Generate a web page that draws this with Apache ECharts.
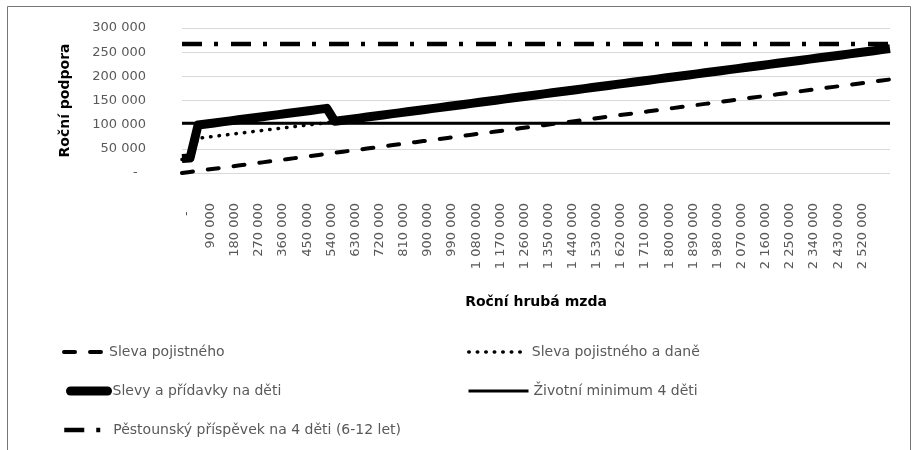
<!DOCTYPE html>
<html>
<head>
<meta charset="utf-8">
<script src="https://cdn.jsdelivr.net/npm/echarts@6/dist/echarts.min.js"></script>
<style>
html,body{margin:0;padding:0;background:#fff;}
#chart{width:919px;height:450px;}
</style>
</head>
<body>
<div id="chart"></div>
<script>
// Roční hrubá mzda (categories)
const wages = [0, 30000, 60000, 90000, 120000, 150000, 180000, 210000, 240000, 270000,
  300000, 330000, 360000, 390000, 420000, 450000, 480000, 510000, 540000, 570000,
  600000, 630000, 660000, 690000, 720000, 750000, 780000, 810000, 840000, 870000,
  900000, 930000, 960000, 990000, 1020000, 1050000, 1080000, 1110000, 1140000, 1170000,
  1200000, 1230000, 1260000, 1290000, 1320000, 1350000, 1380000, 1410000, 1440000, 1470000,
  1500000, 1530000, 1560000, 1590000, 1620000, 1650000, 1680000, 1710000, 1740000, 1770000,
  1800000, 1830000, 1860000, 1890000, 1920000, 1950000, 1980000, 2010000, 2040000, 2070000,
  2100000, 2130000, 2160000, 2190000, 2220000, 2250000, 2280000, 2310000, 2340000, 2370000,
  2400000, 2430000, 2460000, 2490000, 2520000, 2550000, 2580000, 2610000, 2640000];

// last labelled tick in the reference is 2 520 000
const lastLabelled = 2520000;

const slevaPojistneho = [0, 2200, 4400, 6600, 8800, 11000, 13200, 15400, 17600, 19800,
  22000, 24200, 26400, 28600, 30800, 33000, 35200, 37400, 39600, 41800,
  44000, 46200, 48400, 50600, 52800, 55000, 57200, 59400, 61600, 63800,
  66000, 68200, 70400, 72600, 74800, 77000, 79200, 81400, 83600, 85800,
  88000, 90200, 92400, 94600, 96800, 99000, 101200, 103400, 105600, 107800,
  110000, 112200, 114400, 116600, 118800, 121000, 123200, 125400, 127600, 129800,
  132000, 134200, 136400, 138600, 140800, 143000, 145200, 147400, 149600, 151800,
  154000, 156200, 158400, 160600, 162800, 165000, 167200, 169400, 171600, 173800,
  176000, 178200, 180400, 182600, 184800, 187000, 189200, 191400, 193500];

const slevaPojistnehoADane = [28000, 30000, 72000, 74000, 76000, 78000, 80000, 82000, 84000, 86000,
  88000, 90000, 92000, 94000, 96000, 98000, 100000, 102000, 104000, 107000,
  109200, 111400, 113500, 115700, 117900, 120100, 122300, 124400, 126600, 128800,
  131000, 133200, 135300, 137500, 139700, 141900, 144100, 146200, 148400, 150600,
  152800, 155000, 157100, 159300, 161500, 163700, 165900, 168000, 170200, 172400,
  174600, 176800, 178900, 181100, 183300, 185500, 187700, 189800, 192000, 194200,
  196400, 198600, 200700, 202900, 205100, 207300, 209500, 211600, 213800, 216000,
  218200, 220400, 222500, 224700, 226900, 229100, 231300, 233400, 235600, 237800,
  240000, 242200, 244300, 246500, 248700, 250900, 253100, 255200, 257400];

const slevyAPridavky = [30000, 31000, 99300, 101500, 103600, 105800, 107900, 110100, 112200, 114400,
  116500, 118700, 120800, 123000, 125100, 127300, 129400, 131600, 133700, 107000,
  109200, 111400, 113500, 115700, 117900, 120100, 122300, 124400, 126600, 128800,
  131000, 133200, 135300, 137500, 139700, 141900, 144100, 146200, 148400, 150600,
  152800, 155000, 157100, 159300, 161500, 163700, 165900, 168000, 170200, 172400,
  174600, 176800, 178900, 181100, 183300, 185500, 187700, 189800, 192000, 194200,
  196400, 198600, 200700, 202900, 205100, 207300, 209500, 211600, 213800, 216000,
  218200, 220400, 222500, 224700, 226900, 229100, 231300, 233400, 235600, 237800,
  240000, 242200, 244300, 246500, 248700, 250900, 253100, 255200, 257400];

const zivotniMinimum = [102800, 102800, 102800, 102800, 102800, 102800, 102800, 102800, 102800, 102800,
  102800, 102800, 102800, 102800, 102800, 102800, 102800, 102800, 102800, 102800,
  102800, 102800, 102800, 102800, 102800, 102800, 102800, 102800, 102800, 102800,
  102800, 102800, 102800, 102800, 102800, 102800, 102800, 102800, 102800, 102800,
  102800, 102800, 102800, 102800, 102800, 102800, 102800, 102800, 102800, 102800,
  102800, 102800, 102800, 102800, 102800, 102800, 102800, 102800, 102800, 102800,
  102800, 102800, 102800, 102800, 102800, 102800, 102800, 102800, 102800, 102800,
  102800, 102800, 102800, 102800, 102800, 102800, 102800, 102800, 102800, 102800,
  102800, 102800, 102800, 102800, 102800, 102800, 102800, 102800, 102800];

const pestounsky = [267100, 267100, 267100, 267100, 267100, 267100, 267100, 267100, 267100, 267100,
  267100, 267100, 267100, 267100, 267100, 267100, 267100, 267100, 267100, 267100,
  267100, 267100, 267100, 267100, 267100, 267100, 267100, 267100, 267100, 267100,
  267100, 267100, 267100, 267100, 267100, 267100, 267100, 267100, 267100, 267100,
  267100, 267100, 267100, 267100, 267100, 267100, 267100, 267100, 267100, 267100,
  267100, 267100, 267100, 267100, 267100, 267100, 267100, 267100, 267100, 267100,
  267100, 267100, 267100, 267100, 267100, 267100, 267100, 267100, 267100, 267100,
  267100, 267100, 267100, 267100, 267100, 267100, 267100, 267100, 267100, 267100,
  267100, 267100, 267100, 267100, 267100, 267100, 267100, 267100, 267100];

const seriesNames = ['Sleva pojistného', 'Sleva pojistného a daně', 'Slevy a přídavky na děti',
  'Životní minimum 4 děti', 'Pěstounský příspěvek na 4 děti (6-12 let)'];

const FONT = 'DejaVu Sans';
const GREY = '#595959';

function fmt(v) {
  const n = Number(v);
  if (n === 0) return '-';
  return String(n).replace(/\B(?=(\d{3})+(?!\d))/g, ' ');
}

const chart = echarts.init(document.getElementById('chart'));

function legendAt(name, left, top, width, cap) {
  const ls = { width: 'inherit' };
  if (cap) ls.cap = cap;
  return {
    data: [name], left: left, top: top, itemWidth: width, itemHeight: 14,
    orient: 'horizontal', padding: 0, selectedMode: false,
    itemStyle: { opacity: 0 },
    lineStyle: ls,
    textStyle: { color: GREY, fontSize: 14, fontFamily: FONT }
  };
}

chart.setOption({
  animation: false,
  backgroundColor: '#fff',
  grid: { left: 182, right: 29, top: 28, bottom: 277, containLabel: false },
  graphic: [{
    type: 'rect', silent: true,
    shape: { x: 7.5, y: 6.5, width: 903, height: 500 },
    style: { fill: 'none', stroke: '#767676', lineWidth: 1 }
  }],
  legend: [
    legendAt(seriesNames[0], 62, 345, 40),
    legendAt(seriesNames[1], 467, 345, 58),
    legendAt(seriesNames[2], 66, 384, 37, 'round'),
    legendAt(seriesNames[3], 467, 384, 60),
    legendAt(seriesNames[4], 62, 423, 44)
  ],
  xAxis: {
    type: 'category',
    data: wages,
    boundaryGap: false,
    name: 'Roční hrubá mzda',
    nameLocation: 'middle',
    nameGap: 122,
    nameTextStyle: { fontFamily: FONT, fontSize: 14, fontWeight: 'bold', color: '#000' },
    axisLine: { show: false },
    axisTick: { show: false },
    axisLabel: {
      interval: function (index, value) { return index % 3 === 0 && Number(value) <= lastLabelled; },
      rotate: 90, margin: 30, verticalAlign: 'top', lineHeight: 9,
      color: GREY, fontSize: 13, fontFamily: FONT,
      formatter: function (v) { return Number(v) === 0 ? '-  ' : fmt(v); }
    },
    splitLine: { show: false }
  },
  yAxis: {
    type: 'value',
    min: 0, max: 300000, interval: 50000,
    name: 'Roční podpora',
    nameLocation: 'middle',
    nameRotate: 90,
    nameGap: 110,
    nameTextStyle: { fontFamily: FONT, fontSize: 14, fontWeight: 'bold', color: '#000' },
    axisLine: { show: false },
    axisTick: { show: false },
    axisLabel: {
      margin: 36, color: GREY, fontSize: 13, fontFamily: FONT,
      formatter: function (v) { return v === 0 ? '-  ' : fmt(v); }
    },
    splitLine: { show: true, lineStyle: { color: '#d9d9d9', width: 1 } }
  },
  series: [
    {
      name: seriesNames[0], type: 'line', data: slevaPojistneho,
      symbol: 'none', showSymbol: false, itemStyle: { color: '#000' },
      lineStyle: { color: '#000', width: 4, type: [11, 15], cap: 'round', join: 'round' }
    },
    {
      name: seriesNames[1], type: 'line', data: slevaPojistnehoADane,
      symbol: 'none', showSymbol: false, itemStyle: { color: '#000' },
      lineStyle: { color: '#000', width: 3.5, type: [0.5, 8], cap: 'round', join: 'round' }
    },
    {
      name: seriesNames[2], type: 'line', data: slevyAPridavky,
      symbol: 'none', showSymbol: false, itemStyle: { color: '#000' },
      lineStyle: { color: '#000', width: 9, type: 'solid', cap: 'butt', join: 'round' }
    },
    {
      name: seriesNames[3], type: 'line', data: zivotniMinimum,
      symbol: 'none', showSymbol: false, itemStyle: { color: '#000' },
      lineStyle: { color: '#000', width: 3, type: 'solid' }
    },
    {
      name: seriesNames[4], type: 'line', data: pestounsky,
      symbol: 'none', showSymbol: false, itemStyle: { color: '#000' },
      lineStyle: { color: '#000', width: 4.5, type: [20, 12, 4, 13], cap: 'butt' }
    }
  ]
});
</script>
</body>
</html>
